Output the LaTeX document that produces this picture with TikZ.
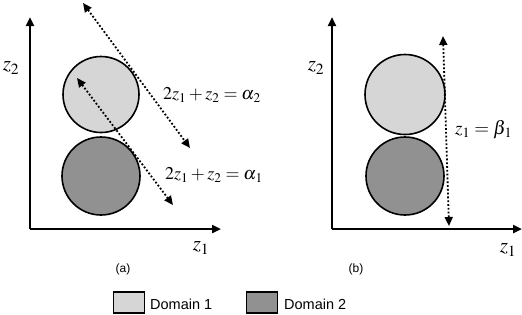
\documentclass[tikz,border=0pt]{standalone}
\usepackage{fontspec}
\usepackage{mathptmx}
\setsansfont{Liberation Sans}
\usetikzlibrary{arrows.meta}
\begin{document}
\begin{tikzpicture}[x=1pt,y=-1pt,
  axis/.style={line width=2.4pt,-{Triangle[length=9pt,width=8pt]}},
  dom/.style={circle,draw,line width=1.6pt,inner sep=0pt},
  domA/.style={dom,fill=light},
  domB/.style={dom,fill=dark},
  dline/.style={line width=1.8pt,dotted,{Triangle[length=9pt,width=8pt]}-{Triangle[length=9pt,width=8pt]}},
  lab/.style={font=\fontsize{18}{20}\selectfont,anchor=west,inner sep=0pt},
  axlab/.style={font=\fontsize{21}{22}\selectfont,inner sep=0pt},
  captxt/.style={font=\sffamily\fontsize{12}{13}\selectfont,inner sep=0pt},
  legtxt/.style={font=\sffamily\fontsize{14.5}{16}\selectfont,inner sep=0pt,anchor=west},
  legbox/.style={draw,line width=1.4pt,minimum width=31pt,minimum height=21pt,inner sep=0pt}
]
\definecolor{light}{HTML}{D6D6D6}
\definecolor{dark}{HTML}{919191}
\useasboundingbox (0,0) rectangle (522,314);
% panel (a)
\coordinate (oa) at (30,229);
\coordinate (ya) at (30,17);
\coordinate (xa) at (221,229);
\draw[axis] (oa) -- (ya);
\draw[axis] (oa) -- (xa);
\node[axlab] (z2a) at (11,68) {$z_2$};
\node[axlab] (z1a) at (201,248) {$z_1$};
\node[domA,minimum size=76pt] (c1a) at (101,94.5) {};
\node[domB,minimum size=78pt] (c2a) at (101,176) {};
\coordinate (l1s) at (83,3);
\coordinate (l1e) at (190,148);
\coordinate (l2s) at (77,78);
\coordinate (l2e) at (173,205);
\draw[dline] (l1s) -- (l1e);
\draw[dline] (l2s) -- (l2e);
\node[lab] (eq2) at (163,95) {$2z_1+z_2=\alpha_{\mkern1mu 2}$};
\node[lab] (eq1) at (165,175) {$2z_1+z_2=\alpha_{\mkern1mu 1}$};
\node[captxt] (ca) at (123,269) {(a)};
% panel (b)
\coordinate (ob) at (332,229);
\coordinate (yb) at (332,17);
\coordinate (xb) at (522,229);
\draw[axis] (ob) -- (yb);
\draw[axis] (ob) -- (xb);
\node[axlab] (z2b) at (316,68) {$z_2$};
\node[axlab] (z1b) at (508,250) {$z_1$};
\node[domA,minimum size=80pt] (c1b) at (405,94.5) {};
\node[domB,minimum size=78pt] (c2b) at (405,176) {};
\coordinate (l3s) at (443,36);
\coordinate (l3e) at (449,226);
\draw[dline] (l3s) -- (l3e);
\node[lab,font=\fontsize{19}{20}\selectfont] (eq3) at (455,130) {$z_1=\beta_{\mkern1mu 1}$};
\node[captxt] (cb) at (356,269) {(b)};
% legend
\node[legbox,fill=light] (lg1) at (129,302.5) {};
\node[legtxt] (lt1) at (150,304) {Domain 1};
\node[legbox,fill=dark] (lg2) at (262,302.5) {};
\node[legtxt] (lt2) at (284,304) {Domain 2};
\end{tikzpicture}
\end{document}
